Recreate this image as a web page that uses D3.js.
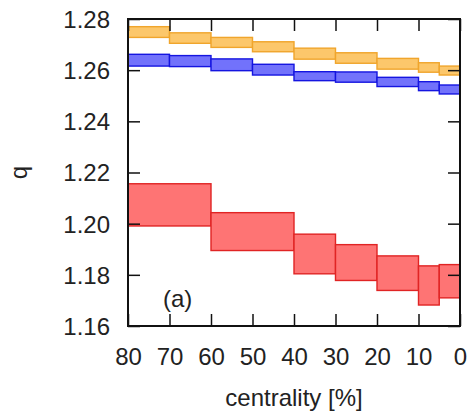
<!DOCTYPE html>
<html>
<head>
<meta charset="utf-8">
<script src="https://cdn.jsdelivr.net/npm/d3@7"></script>
<style>
  html, body { margin: 0; padding: 0; background: #fff; }
  svg { display: block; }
  text { font-family: "Liberation Sans", Arial, Helvetica, sans-serif; fill: #222; }
</style>
</head>
<body>
<script>
// ---- data ----
const fineEdges   = [80, 70, 60, 50, 40, 30, 20, 10, 5, 0];
const orangeHigh  = [1.2770, 1.2746, 1.2728, 1.2711, 1.2686, 1.2668, 1.2646, 1.2629, 1.2616];
const orangeLow   = [1.2728, 1.2705, 1.2689, 1.2672, 1.2643, 1.2627, 1.2604, 1.2592, 1.2581];
const blueHigh    = [1.2662, 1.2657, 1.2644, 1.2623, 1.2594, 1.2593, 1.2572, 1.2555, 1.2542];
const blueLow     = [1.2616, 1.2614, 1.2598, 1.2581, 1.2559, 1.2553, 1.2536, 1.2520, 1.2507];
const coarseEdges = [80, 60, 40, 30, 20, 10, 5, 0];
const redHigh     = [1.2156, 1.2043, 1.1959, 1.1918, 1.1874, 1.1835, 1.1840];
const redLow      = [1.1991, 1.1895, 1.1804, 1.1778, 1.1739, 1.1682, 1.1710];
const xTicks = [80, 70, 60, 50, 40, 30, 20, 10, 0];
const yTicks = [1.16, 1.18, 1.20, 1.22, 1.24, 1.26, 1.28];

const W = 472, H = 411;
const m = { left: 128, right: 12, top: 19, bottom: 85 };
const iw = W - m.left - m.right, ih = H - m.top - m.bottom;

const svg = d3.select("body").append("svg").attr("width", W).attr("height", H);
const g = svg.append("g").attr("transform", `translate(${m.left},${m.top})`);

const x = d3.scaleLinear().domain([80, 0]).range([0, iw]);
const y = d3.scaleLinear().domain([1.16, 1.28]).range([ih, 0]);

function drawBoxes(edges, hi, lo, fill, stroke) {
  const rows = hi.map((h, i) => ({ x0: edges[i], x1: edges[i + 1], hi: h, lo: lo[i] }));
  g.append("g").selectAll("rect").data(rows).join("rect")
    .attr("x", d => x(d.x0))
    .attr("width", d => x(d.x1) - x(d.x0))
    .attr("y", d => y(d.hi))
    .attr("height", d => y(d.lo) - y(d.hi))
    .attr("fill", fill)
    .attr("stroke", stroke)
    .attr("stroke-width", 1.4);
}

drawBoxes(fineEdges, orangeHigh, orangeLow, "#fcc76b", "#f0a52c");
drawBoxes(fineEdges, blueHigh, blueLow, "#7272fb", "#1515e0");
drawBoxes(coarseEdges, redHigh, redLow, "#fe7474", "#e02424");

// axes (ticks inward)
const tickLen = 12;
const axB = g.append("g").attr("transform", `translate(0,${ih})`)
  .call(d3.axisBottom(x).tickValues(xTicks).tickSize(-tickLen).tickPadding(tickLen + 10).tickFormat(d3.format("d")));
const axT = g.append("g")
  .call(d3.axisTop(x).tickValues(xTicks).tickSize(-tickLen).tickFormat(""));
const axL = g.append("g")
  .call(d3.axisLeft(y).tickValues(yTicks).tickSize(-tickLen).tickPadding(tickLen + 6).tickFormat(d3.format(".2f")));
const axR = g.append("g").attr("transform", `translate(${iw},0)`)
  .call(d3.axisRight(y).tickValues(yTicks).tickSize(-tickLen).tickFormat(""));

[axB, axT, axL, axR].forEach(a => {
  a.select(".domain").remove();
  a.selectAll(".tick line").attr("stroke", "#111").attr("stroke-width", 1.5);
  a.selectAll("text").style("font-size", "24px").attr("fill", "#222");
});
axL.selectAll("text").attr("dy", "0.35em");

// frame
g.append("rect").attr("x", 0).attr("y", 0).attr("width", iw).attr("height", ih)
  .attr("fill", "none").attr("stroke", "#111").attr("stroke-width", 2);

// labels
svg.append("text").attr("x", m.left + iw / 2).attr("y", 406)
  .attr("text-anchor", "middle").style("font-size", "24px").text("centrality [%]");
svg.append("text")
  .attr("transform", `translate(27,${m.top + ih / 2}) rotate(-90)`)
  .attr("text-anchor", "middle").style("font-size", "24px").text("q");
g.append("text").attr("x", 35).attr("y", 288).style("font-size", "24px").text("(a)");
</script>
</body>
</html>
